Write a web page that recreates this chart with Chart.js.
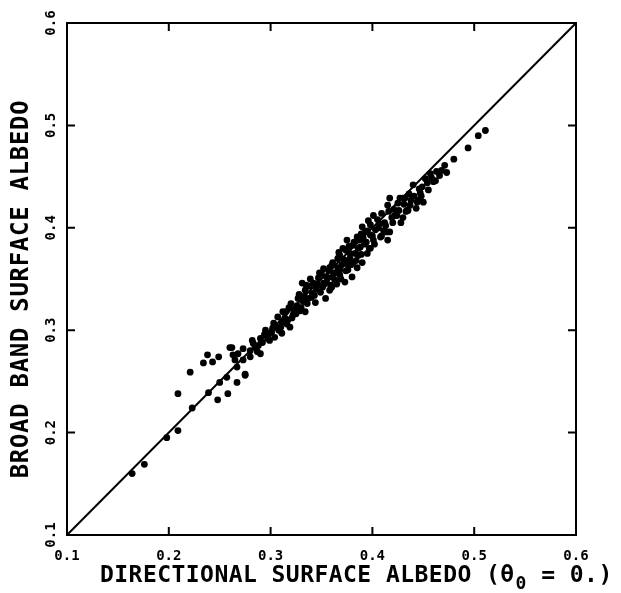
<!DOCTYPE html>
<html>
<head>
<meta charset="utf-8">
<script src="https://cdn.jsdelivr.net/npm/chart.js@4/dist/chart.umd.min.js"></script>
<style>
  html, body { margin: 0; padding: 0; background: #fff; }
  canvas { display: block; }
</style>
</head>
<body>
<canvas id="albedo" width="621" height="593"></canvas>
<script>
// directional surface albedo (theta0 = 0) -> x
const dirAlbedo = [
    0.164, 0.176, 0.198, 0.209, 0.223, 0.209, 0.221, 0.234, 0.238, 0.243,
    0.249, 0.260, 0.248, 0.258, 0.239, 0.275, 0.250, 0.257, 0.267, 0.262,
    0.265, 0.263, 0.267, 0.273, 0.275, 0.268, 0.273, 0.280, 0.280, 0.283,
    0.288, 0.290, 0.290, 0.295, 0.297, 0.301, 0.304, 0.306, 0.311, 0.311,
    0.312, 0.317, 0.319, 0.322, 0.326, 0.329, 0.334, 0.331, 0.334, 0.336,
    0.341, 0.342, 0.344, 0.347, 0.349, 0.354, 0.355, 0.358, 0.358, 0.361,
    0.368, 0.375, 0.355, 0.352, 0.360, 0.363, 0.373, 0.380, 0.368, 0.376,
    0.366, 0.385, 0.381, 0.390, 0.373, 0.361, 0.368, 0.371, 0.378, 0.386,
    0.395, 0.398, 0.388, 0.381, 0.375, 0.385, 0.391, 0.401, 0.408, 0.415,
    0.393, 0.390, 0.398, 0.406, 0.414, 0.396, 0.401, 0.409, 0.412, 0.420,
    0.419, 0.424, 0.430, 0.415, 0.417, 0.425, 0.427, 0.432, 0.435, 0.437,
    0.444, 0.450, 0.447, 0.440, 0.449, 0.454, 0.457, 0.462, 0.466, 0.471,
    0.473, 0.460, 0.452, 0.445, 0.434, 0.430, 0.468, 0.480, 0.494, 0.504,
    0.511,
    0.285, 0.292, 0.298, 0.303, 0.308, 0.314, 0.318, 0.323, 0.327, 0.332,
    0.338, 0.340, 0.345, 0.350, 0.353, 0.357, 0.362, 0.366, 0.370, 0.374,
    0.378, 0.382, 0.386, 0.389, 0.394, 0.398, 0.403, 0.407, 0.411, 0.416,
    0.421, 0.426, 0.431, 0.436, 0.441, 0.446,
    0.282, 0.287, 0.294, 0.299, 0.302, 0.307, 0.310, 0.315, 0.316, 0.320,
    0.321, 0.325, 0.328, 0.330, 0.333, 0.335, 0.337, 0.339, 0.343, 0.346,
    0.348, 0.351, 0.352, 0.356, 0.359, 0.360, 0.364, 0.365, 0.367, 0.369,
    0.372, 0.374, 0.377, 0.379, 0.383, 0.384, 0.387, 0.389, 0.392, 0.395,
    0.397, 0.400, 0.402, 0.405, 0.409, 0.413, 0.417, 0.422, 0.428, 0.433,
    0.438, 0.443, 0.448, 0.455, 0.458, 0.463
];
// broad band surface albedo -> y
const broadAlbedo = [
    0.160, 0.169, 0.195, 0.202, 0.224, 0.238, 0.259, 0.268, 0.276, 0.269,
    0.274, 0.283, 0.232, 0.238, 0.239, 0.257, 0.249, 0.254, 0.249, 0.283,
    0.271, 0.276, 0.264, 0.271, 0.256, 0.277, 0.282, 0.280, 0.274, 0.287,
    0.285, 0.292, 0.277, 0.300, 0.292, 0.298, 0.293, 0.303, 0.297, 0.308,
    0.318, 0.310, 0.303, 0.315, 0.324, 0.319, 0.318, 0.346, 0.339, 0.326,
    0.336, 0.346, 0.327, 0.351, 0.337, 0.331, 0.347, 0.339, 0.361, 0.352,
    0.359, 0.365, 0.352, 0.346, 0.342, 0.349, 0.347, 0.352, 0.354, 0.359,
    0.361, 0.361, 0.366, 0.366, 0.368, 0.366, 0.373, 0.380, 0.375, 0.373,
    0.375, 0.380, 0.381, 0.383, 0.388, 0.391, 0.390, 0.388, 0.391, 0.388,
    0.396, 0.401, 0.403, 0.400, 0.396, 0.407, 0.412, 0.414, 0.405, 0.405,
    0.410, 0.412, 0.410, 0.422, 0.429, 0.424, 0.429, 0.429, 0.417, 0.422,
    0.425, 0.425, 0.434, 0.442, 0.440, 0.444, 0.453, 0.446, 0.451, 0.461,
    0.454, 0.445, 0.448, 0.427, 0.417, 0.429, 0.456, 0.467, 0.478, 0.490,
    0.495,
    0.283, 0.288, 0.296, 0.307, 0.300, 0.312, 0.322, 0.320, 0.331, 0.328,
    0.343, 0.332, 0.340, 0.355, 0.345, 0.358, 0.356, 0.370, 0.364, 0.378,
    0.370, 0.386, 0.380, 0.394, 0.386, 0.393, 0.398, 0.404, 0.397, 0.416,
    0.418, 0.417, 0.423, 0.433, 0.431, 0.438,
    0.290, 0.279, 0.296, 0.290, 0.302, 0.313, 0.303, 0.318, 0.306, 0.326,
    0.312, 0.316, 0.335, 0.322, 0.333, 0.344, 0.331, 0.350, 0.334, 0.345,
    0.356, 0.342, 0.360, 0.351, 0.344, 0.363, 0.356, 0.345, 0.376, 0.350,
    0.369, 0.358, 0.382, 0.364, 0.375, 0.368, 0.388, 0.374, 0.384, 0.397,
    0.380, 0.392, 0.384, 0.408, 0.392, 0.402, 0.396, 0.412, 0.405, 0.416,
    0.427, 0.419, 0.431, 0.437, 0.449, 0.455
];
// 1:1 line
const diagX = [0.1, 0.6];
const diagY = [0.1, 0.6];
const tickVals = [0.1, 0.2, 0.3, 0.4, 0.5, 0.6];

const xTitleHead = 'DIRECTIONAL SURFACE ALBEDO (θ';
const xTitleSub = '0';
const xTitleTail = ' = 0.)';
const yTitle = 'BROAD BAND SURFACE ALBEDO';

const monoFont = '"DejaVu Sans Mono", "Liberation Mono", monospace';

// frame, inward ticks, rotated y labels and axis titles
const framePlugin = {
    id: 'frame',
    afterDraw(chart) {
        const ctx = chart.ctx;
        const area = chart.chartArea;
        const xs = chart.scales.x;
        const ys = chart.scales.y;
        const tl = 8;

        ctx.save();
        ctx.strokeStyle = '#000';
        ctx.lineWidth = 2;
        ctx.strokeRect(area.left, area.top, area.right - area.left, area.bottom - area.top);

        ctx.beginPath();
        tickVals.forEach(v => {
            const px = xs.getPixelForValue(v);
            const py = ys.getPixelForValue(v);
            ctx.moveTo(px, area.bottom); ctx.lineTo(px, area.bottom - tl);
            ctx.moveTo(px, area.top); ctx.lineTo(px, area.top + tl);
            ctx.moveTo(area.left, py); ctx.lineTo(area.left + tl, py);
            ctx.moveTo(area.right, py); ctx.lineTo(area.right - tl, py);
        });
        ctx.stroke();

        // y tick labels, written upward
        ctx.fillStyle = '#000';
        ctx.font = 'bold 14px ' + monoFont;
        ctx.textAlign = 'center';
        ctx.textBaseline = 'middle';
        tickVals.forEach(v => {
            const py = ys.getPixelForValue(v);
            ctx.save();
            ctx.translate(51, py);
            ctx.rotate(-Math.PI / 2);
            ctx.fillText(v.toFixed(1), 0, 0);
            ctx.restore();
        });

        // y title
        ctx.font = 'bold 24px ' + monoFont;
        ctx.letterSpacing = '0.7px';
        ctx.save();
        ctx.translate(22, 289);
        ctx.rotate(-Math.PI / 2);
        ctx.fillText(yTitle, 0, 0);
        ctx.restore();

        // x title with subscript zero
        ctx.letterSpacing = '0.45px';
        ctx.textAlign = 'left';
        ctx.font = 'bold 23px ' + monoFont;
        let x = 100;
        ctx.fillText(xTitleHead, x, 576);
        x += ctx.measureText(xTitleHead).width + 1;
        ctx.font = 'bold 18px ' + monoFont;
        ctx.fillText(xTitleSub, x, 584);
        x += ctx.measureText(xTitleSub).width;
        ctx.font = 'bold 23px ' + monoFont;
        ctx.fillText(xTitleTail, x, 576);
        ctx.letterSpacing = '0px';
        ctx.restore();
    }
};

new Chart(document.getElementById('albedo').getContext('2d'), {
    type: 'scatter',
    data: {
        datasets: [{
            label: 'albedo',
            data: dirAlbedo.map((x, i) => ({ x: x, y: broadAlbedo[i] })),
            backgroundColor: '#000',
            borderWidth: 0,
            pointRadius: 3.4
        }, {
            type: 'line',
            label: '1:1',
            data: diagX.map((x, i) => ({ x: x, y: diagY[i] })),
            borderColor: '#000',
            borderWidth: 2,
            pointRadius: 0,
            fill: false
        }]
    },
    options: {
        responsive: false,
        devicePixelRatio: 1,
        animation: false,
        layout: { padding: { top: 23, right: 45, left: 0, bottom: 0 } },
        plugins: {
            legend: { display: false },
            tooltip: { enabled: false }
        },
        scales: {
            x: {
                type: 'linear',
                min: 0.1,
                max: 0.6,
                grid: { display: false },
                border: { display: false },
                ticks: {
                    stepSize: 0.1,
                    padding: 5,
                    color: '#000',
                    font: { family: monoFont, size: 14, weight: 'bold' },
                    callback: v => v.toFixed(1)
                },
                afterFit: s => { s.height = 58; }
            },
            y: {
                type: 'linear',
                min: 0.1,
                max: 0.6,
                grid: { display: false },
                border: { display: false },
                ticks: { display: false, stepSize: 0.1 },
                afterFit: s => { s.width = 67; }
            }
        }
    },
    plugins: [framePlugin]
});
</script>
</body>
</html>
